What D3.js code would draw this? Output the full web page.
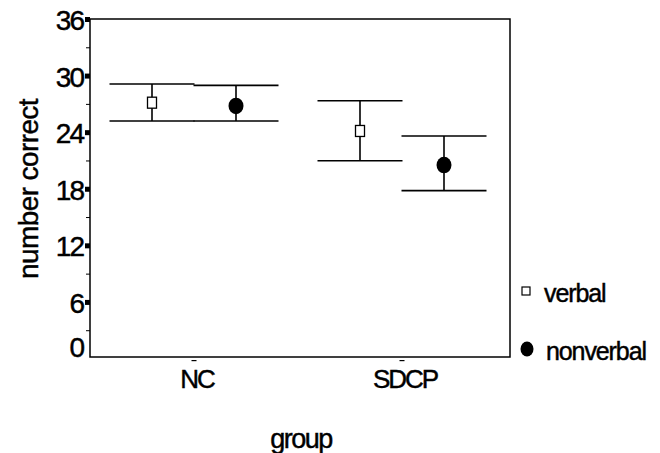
<!DOCTYPE html>
<html>
<head>
<meta charset="utf-8">
<script src="https://cdn.jsdelivr.net/npm/d3@7"></script>
<style>
  html, body { margin: 0; padding: 0; background: #fff; }
  text { font-family: "Liberation Sans", Arial, sans-serif; fill: #000; stroke: #000; stroke-width: 0.45px; }
</style>
</head>
<body>
<svg id="chart" width="660" height="453"></svg>
<script>
// ---- data ----
const groups = ["NC", "SDCP"];
const series = ["verbal", "nonverbal"];
// mean and 95% CI bounds, per group, per series
const verbalMean  = [27.18, 24.18];
const verbalLow   = [25.24, 21.03];
const verbalHigh  = [29.16, 27.39];
const nonverbalMean = [26.83, 20.57];
const nonverbalLow  = [25.24, 17.85];
const nonverbalHigh = [29.02, 23.65];
const yTicks = [0, 6, 12, 18, 24, 30, 36];
const yMinorTicks = [3, 9, 15, 21, 27, 33];
const xTitle = "group";
const yTitle = "number correct";

const rows = [];
groups.forEach((g, i) => {
  rows.push({group: g, series: "verbal", mean: verbalMean[i], lo: verbalLow[i], hi: verbalHigh[i]});
  rows.push({group: g, series: "nonverbal", mean: nonverbalMean[i], lo: nonverbalLow[i], hi: nonverbalHigh[i]});
});

const svg = d3.select("#chart");
const frame = {left: 90, right: 510, top: 19, bottom: 357};

const y = d3.scaleLinear().domain([0, 36]).range([359, 19.5]);
const x0 = d3.scaleBand().domain(groups).range([90, 506]);
const x1 = d3.scalePoint().domain(series).range([-42, 42]);
const cx = d => x0(d.group) + x0.bandwidth() / 2 + x1(d.series);

// frame
svg.append("rect")
  .attr("x", frame.left).attr("y", frame.top)
  .attr("width", frame.right - frame.left).attr("height", frame.bottom - frame.top)
  .attr("fill", "none").attr("stroke", "#000").attr("stroke-width", 1.5);

// y ticks
svg.selectAll(".ymaj").data(yTicks.filter(t => t > 0)).join("rect")
  .attr("x", 85).attr("y", d => y(d) - 2.5).attr("width", 5).attr("height", 5)
  .attr("fill", "#000");
svg.selectAll(".ymin").data(yMinorTicks).join("line")
  .attr("x1", 86).attr("x2", 90).attr("y1", d => y(d)).attr("y2", d => y(d))
  .attr("stroke", "#000").attr("stroke-width", 1);
svg.selectAll(".ylab").data(yTicks).join("text")
  .attr("x", 83).attr("y", d => Math.min(y(d) + 10.5, 357))
  .attr("text-anchor", "end").attr("font-size", 28).attr("letter-spacing", -2)
  .text(d => d);

// x ticks & labels
svg.selectAll(".xt").data(groups).join("rect")
  .attr("x", d => x0(d) + x0.bandwidth() / 2 - 2.5).attr("y", 360)
  .attr("width", 5).attr("height", 1.2).attr("fill", "#000");
svg.selectAll(".xlab").data(groups).join("text")
  .attr("x", d => x0(d) + x0.bandwidth() / 2 + 3).attr("y", 388)
  .attr("text-anchor", "middle").attr("font-size", 26).attr("letter-spacing", -2)
  .text(d => d);

// titles
svg.append("text").attr("x", 301).attr("y", 448).attr("text-anchor", "middle")
  .attr("font-size", 27).attr("letter-spacing", -1.5).text(xTitle);
svg.append("text").attr("transform", "translate(38,189) rotate(-90)")
  .attr("text-anchor", "middle").attr("font-size", 28).attr("letter-spacing", -0.6).text(yTitle);

// error bars
const half = 42.5;
const g = svg.append("g").attr("stroke", "#000").attr("stroke-width", 1.6);
rows.forEach(d => {
  const xc = cx(d);
  g.append("line").attr("x1", xc).attr("x2", xc).attr("y1", y(d.hi)).attr("y2", y(d.lo));
  g.append("line").attr("x1", xc - half).attr("x2", xc + half).attr("y1", y(d.hi)).attr("y2", y(d.hi));
  g.append("line").attr("x1", xc - half).attr("x2", xc + half).attr("y1", y(d.lo)).attr("y2", y(d.lo));
});
// markers
rows.forEach(d => {
  const xc = cx(d), yc = y(d.mean);
  if (d.series === "verbal") {
    svg.append("rect").attr("x", xc - 4.5).attr("y", yc - 5.5).attr("width", 9).attr("height", 11)
      .attr("fill", "#fff").attr("stroke", "#000").attr("stroke-width", 1.3);
  } else {
    svg.append("ellipse").attr("cx", xc).attr("cy", yc).attr("rx", 7.5).attr("ry", 8.3).attr("fill", "#000");
  }
});

// legend
const legendY = [291, 349];
series.forEach((s, i) => {
  if (s === "verbal") {
    svg.append("rect").attr("x", 522).attr("y", legendY[i] - 4).attr("width", 8).attr("height", 8)
      .attr("fill", "#fff").attr("stroke", "#000").attr("stroke-width", 1.2);
  } else {
    svg.append("ellipse").attr("cx", 527).attr("cy", legendY[i]).attr("rx", 6.5).attr("ry", 7.5).attr("fill", "#000");
  }
  svg.append("text").attr("x", i === 0 ? 544 : 546).attr("y", legendY[i] + 11)
    .attr("font-size", 25).attr("letter-spacing", -1.1).text(s);
});
</script>
</body>
</html>
